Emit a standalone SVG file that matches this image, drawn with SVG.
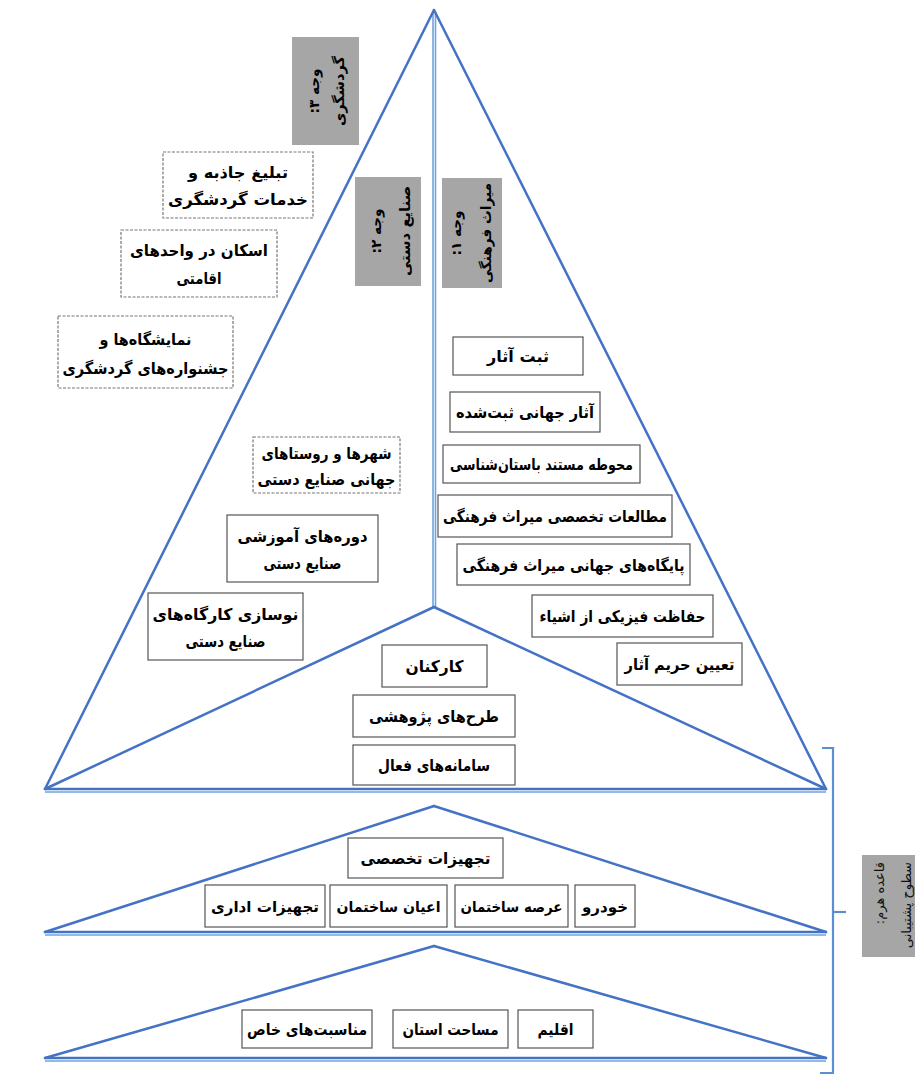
<svg xmlns="http://www.w3.org/2000/svg" width="915" height="1077" viewBox="0 0 915 1077">
<style>
.bg{fill:#fff}
.box{fill:#fff;stroke:#555;stroke-width:1.2}
.dash{stroke:#777;stroke-dasharray:3 1.5}
.gray{fill:#a6a6a6}
.t{font-family:"DejaVu Sans","Noto Sans",sans-serif;font-weight:bold;font-size:16px;text-anchor:middle;direction:rtl;fill:#000}
.s{font-size:15px}
.g{font-size:14px}
.gs{font-family:"DejaVu Sans","Noto Sans",sans-serif;font-size:13px;direction:rtl;text-anchor:start;fill:#111}
.edge{stroke:#4472c4;stroke-width:2.5;fill:none;stroke-linecap:round}
.light{stroke:#6fa3dc;stroke-width:1.6;fill:none}
.br{stroke:#5b8fd0;stroke-width:2.2;fill:none}
</style>
<rect class="bg" x="0" y="0" width="915" height="1077"/>
<g id="connectors">
  <line class="light" x1="433" y1="12" x2="433" y2="607"/>
  <line class="light" x1="435.5" y1="12" x2="435.5" y2="607"/>
  <line class="edge" x1="434" y1="10" x2="45" y2="789"/>
  <line class="edge" x1="434" y1="10" x2="826" y2="789"/>
  <line class="edge" x1="434" y1="607" x2="45" y2="789"/>
  <line class="edge" x1="434" y1="607" x2="826" y2="789"/>
  <line class="edge" x1="45" y1="789" x2="826" y2="789"/>
  <line class="light" x1="45" y1="792" x2="826" y2="792"/>
  <line class="edge" x1="45" y1="932" x2="434" y2="806"/>
  <line class="edge" x1="434" y1="806" x2="826" y2="932"/>
  <line class="edge" x1="45" y1="932" x2="826" y2="932"/>
  <line class="light" x1="45" y1="935" x2="826" y2="935"/>
  <line class="edge" x1="45" y1="1058" x2="434" y2="946"/>
  <line class="edge" x1="434" y1="946" x2="826" y2="1058"/>
  <line class="edge" x1="45" y1="1058" x2="826" y2="1058"/>
  <line class="light" x1="45" y1="1061" x2="826" y2="1061"/>
  <polyline class="br" points="822,748 833,748 833,1073 820,1073"/>
  <line class="br" x1="833" y1="912" x2="846" y2="912"/>
</g>

<g id="face3-label">
  <rect class="gray" x="292" y="37" width="67" height="108"/>
  <g transform="translate(326,91) rotate(-90)">
    <text class="t g" x="0" y="-7" textLength="45" lengthAdjust="spacingAndGlyphs">وجه ۳:</text>
    <text class="t g" x="0" y="18" textLength="70" lengthAdjust="spacingAndGlyphs">گردشگری</text>
  </g>
</g>
<g id="face2-label">
  <rect class="gray" x="355" y="177" width="66" height="109"/>
  <g transform="translate(388,231) rotate(-90)">
    <text class="t g" x="0" y="-7" textLength="45" lengthAdjust="spacingAndGlyphs">وجه ۲:</text>
    <text class="t g" x="0" y="22" textLength="90" lengthAdjust="spacingAndGlyphs">صنایع دستی</text>
  </g>
</g>
<g id="face1-label">
  <rect class="gray" x="442" y="178" width="60" height="110"/>
  <g transform="translate(471,233) rotate(-90)">
    <text class="t g" x="0" y="-10" textLength="45" lengthAdjust="spacingAndGlyphs">وجه ۱:</text>
    <text class="t g" x="0" y="20" textLength="100" lengthAdjust="spacingAndGlyphs">میراث فرهنگی</text>
  </g>
</g>
<g id="base-label">
  <rect class="gray" x="862" y="855" width="60" height="102"/>
  <g transform="translate(862,862) rotate(-90)">
    <text class="gs" x="0" y="22">قاعده هرم:</text>
    <text class="gs" x="0" y="49">سطوح پشتیبانی</text>
  </g>
</g>

<g id="tourism-promotion">
  <rect class="box dash" x="163" y="152" width="150" height="66"/>
  <text class="t" x="238" y="178" textLength="100" lengthAdjust="spacingAndGlyphs">تبلیغ جاذبه و</text>
  <text class="t" x="238" y="205" textLength="140" lengthAdjust="spacingAndGlyphs">خدمات گردشگری</text>
</g>
<g id="tourism-accommodation">
  <rect class="box dash" x="121" y="230" width="156" height="67"/>
  <text class="t" x="199" y="256" textLength="138" lengthAdjust="spacingAndGlyphs">اسکان در واحدهای</text>
  <text class="t" x="199" y="284" textLength="45" lengthAdjust="spacingAndGlyphs">اقامتی</text>
</g>
<g id="tourism-exhibitions">
  <rect class="box dash" x="58" y="316" width="175" height="72"/>
  <text class="t" x="145.5" y="345" textLength="92" lengthAdjust="spacingAndGlyphs">نمایشگاه‌ها و</text>
  <text class="t" x="145.5" y="374" textLength="166" lengthAdjust="spacingAndGlyphs">جشنواره‌های گردشگری</text>
</g>

<g id="handicraft-cities">
  <rect class="box dash" x="253" y="437" width="147" height="56"/>
  <text class="t" x="326.5" y="459" textLength="130" lengthAdjust="spacingAndGlyphs">شهرها و روستاهای</text>
  <text class="t" x="326.5" y="485" textLength="138" lengthAdjust="spacingAndGlyphs">جهانی صنایع دستی</text>
</g>
<g id="handicraft-courses">
  <rect class="box" x="227" y="515" width="151" height="67"/>
  <text class="t" x="302.5" y="542" textLength="130" lengthAdjust="spacingAndGlyphs">دوره‌های آموزشی</text>
  <text class="t" x="302.5" y="569" textLength="78" lengthAdjust="spacingAndGlyphs">صنایع دستی</text>
</g>
<g id="handicraft-workshops">
  <rect class="box" x="148" y="593" width="155" height="67"/>
  <text class="t" x="225.5" y="620" textLength="146" lengthAdjust="spacingAndGlyphs">نوسازی کارگاه‌های</text>
  <text class="t" x="225.5" y="647" textLength="80" lengthAdjust="spacingAndGlyphs">صنایع دستی</text>
</g>

<g id="heritage-registration">
  <rect class="box" x="453" y="337" width="130" height="38"/>
  <text class="t" x="518" y="362" textLength="62" lengthAdjust="spacingAndGlyphs">ثبت آثار</text>
</g>
<g id="heritage-world-registered">
  <rect class="box" x="450" y="392" width="150" height="40"/>
  <text class="t" x="525" y="418" textLength="138" lengthAdjust="spacingAndGlyphs">آثار جهانی ثبت‌شده</text>
</g>
<g id="heritage-archaeology">
  <rect class="box" x="443" y="445" width="197" height="38"/>
  <text class="t" x="541.5" y="470" textLength="183" lengthAdjust="spacingAndGlyphs">محوطه مستند باستان‌شناسی</text>
</g>
<g id="heritage-studies">
  <rect class="box" x="438" y="495" width="234" height="42"/>
  <text class="t" x="555" y="522" textLength="224" lengthAdjust="spacingAndGlyphs">مطالعات تخصصی میراث فرهنگی</text>
</g>
<g id="heritage-world-bases">
  <rect class="box" x="457" y="544" width="233" height="41"/>
  <text class="t" x="573.5" y="571" textLength="222" lengthAdjust="spacingAndGlyphs">پایگاه‌های جهانی میراث فرهنگی</text>
</g>
<g id="heritage-protection">
  <rect class="box" x="532" y="595" width="181" height="42"/>
  <text class="t" x="622.5" y="622" textLength="166" lengthAdjust="spacingAndGlyphs">حفاظت فیزیکی از اشیاء</text>
</g>
<g id="heritage-buffer">
  <rect class="box" x="617" y="643" width="125" height="42"/>
  <text class="t" x="679.5" y="670" textLength="110" lengthAdjust="spacingAndGlyphs">تعیین حریم آثار</text>
</g>

<g id="staff">
  <rect class="box" x="382" y="645" width="105" height="42"/>
  <text class="t" x="434.5" y="672" textLength="58" lengthAdjust="spacingAndGlyphs">کارکنان</text>
</g>
<g id="research-projects">
  <rect class="box" x="353" y="695" width="162" height="42"/>
  <text class="t" x="434" y="722" textLength="130" lengthAdjust="spacingAndGlyphs">طرح‌های پژوهشی</text>
</g>
<g id="active-systems">
  <rect class="box" x="353" y="745" width="162" height="40"/>
  <text class="t" x="434" y="771" textLength="112" lengthAdjust="spacingAndGlyphs">سامانه‌های فعال</text>
</g>

<g id="special-equipment">
  <rect class="box" x="348" y="838" width="155" height="40"/>
  <text class="t" x="425.5" y="864" textLength="130" lengthAdjust="spacingAndGlyphs">تجهیزات تخصصی</text>
</g>
<g id="office-equipment">
  <rect class="box" x="205" y="885" width="120" height="42"/>
  <text class="t s" x="265" y="912" textLength="108" lengthAdjust="spacingAndGlyphs">تجهیزات اداری</text>
</g>
<g id="building-assets">
  <rect class="box" x="330" y="885" width="117" height="42"/>
  <text class="t s" x="388.5" y="912" textLength="104" lengthAdjust="spacingAndGlyphs">اعیان ساختمان</text>
</g>
<g id="building-land">
  <rect class="box" x="455" y="885" width="113" height="42"/>
  <text class="t s" x="511.5" y="912" textLength="102" lengthAdjust="spacingAndGlyphs">عرصه ساختمان</text>
</g>
<g id="vehicle">
  <rect class="box" x="575" y="885" width="60" height="42"/>
  <text class="t s" x="605" y="912" textLength="46" lengthAdjust="spacingAndGlyphs">خودرو</text>
</g>

<g id="special-occasions">
  <rect class="box" x="242" y="1010" width="130" height="38"/>
  <text class="t" x="307" y="1035" textLength="120" lengthAdjust="spacingAndGlyphs">مناسبت‌های خاص</text>
</g>
<g id="province-area">
  <rect class="box" x="393" y="1010" width="115" height="38"/>
  <text class="t" x="450.5" y="1035" textLength="96" lengthAdjust="spacingAndGlyphs">مساحت استان</text>
</g>
<g id="climate">
  <rect class="box" x="518" y="1010" width="75" height="38"/>
  <text class="t" x="555.5" y="1035" textLength="36" lengthAdjust="spacingAndGlyphs">اقلیم</text>
</g>
</svg>
